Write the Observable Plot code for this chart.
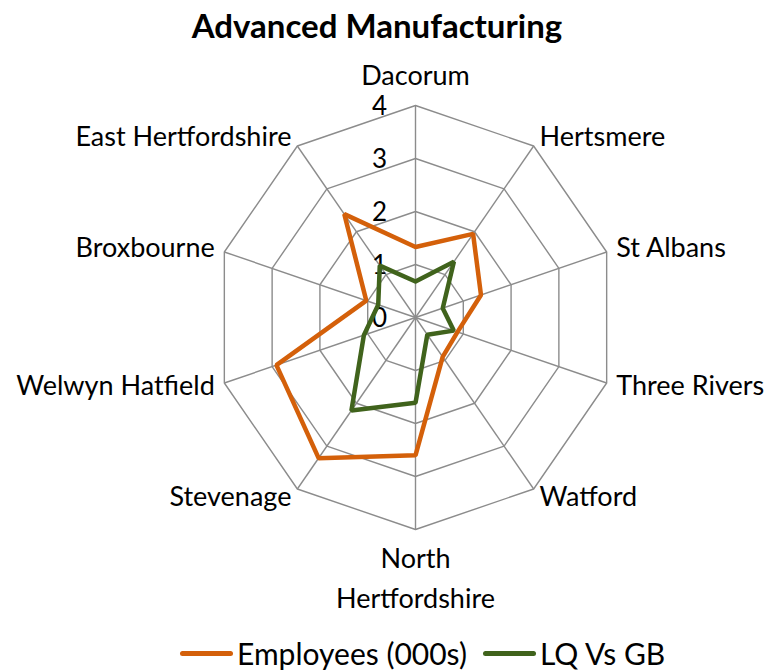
<!DOCTYPE html>
<html><head><meta charset="utf-8">
<script src="https://cdn.jsdelivr.net/npm/d3@7"></script>
<script src="https://cdn.jsdelivr.net/npm/@observablehq/plot@0.6"></script>
<style>
body{margin:0;background:#fff;font-family:Lato,sans-serif;color:#000;}
#wrap{width:779px;height:671px;position:relative;overflow:hidden;}
#title{height:50px;line-height:50px;font-weight:bold;font-size:33px;text-align:center;padding-right:25px;}
#chart{height:585px;}
#legend{display:flex;align-items:center;height:36px;padding-left:180px;font-size:30px;}
.sw{display:inline-block;width:53px;height:5px;border-radius:2.5px;margin-right:4px;}
.item{display:flex;align-items:center;margin-right:16px;}
</style></head><body>
<div id="wrap">
<div id="title">Advanced Manufacturing</div>
<div id="chart"></div>
<div id="legend"></div>
</div>
<script>
const categories = ["Dacorum","Hertsmere","St Albans","Three Rivers","Watford","North\nHertfordshire","Stevenage","Welwyn Hatfield","Broxbourne","East Hertfordshire"];
const employees = [1.33,1.95,1.37,0.88,0.92,2.60,3.28,2.91,1.03,2.41];
const lqVsGB = [0.68,1.30,0.57,0.80,0.40,1.61,2.17,1.08,0.78,1.21];
const ticks = [0,1,2,3,4];
const seriesNames = ["Employees (000s)","LQ Vs GB"];
const seriesColors = ["#d4600a","#40631c"];

const n = categories.length;
const ang = i => i * 2 * Math.PI / n;
const px = (v,i) => v * Math.sin(ang(i));
const py = (v,i) => v * Math.cos(ang(i));

const rings = [];
for (const r of ticks.filter(t=>t>0)) for (let i=0;i<=n;i++) rings.push({ring:r, x:px(r,i%n), y:py(r,i%n)});
const spokes = categories.map((c,i)=>({x2:px(4,i), y2:py(4,i)}));
const mk = vals => { const a=[]; for(let i=0;i<=n;i++) a.push({x:px(vals[i%n],i%n), y:py(vals[i%n],i%n)}); return a; };
const lab = (i,r) => ({x:px(r,i), y:py(r,i)});
const rightIdx=[1,2,3,4], leftIdx=[6,7,8,9];
const fs = 27;

const chart = Plot.plot({
  width: 779, height: 585,
  x: {domain:[-4,4], range:[214,616], axis:null},
  y: {domain:[-4,4], range:[479,55], axis:null},
  style: {fontFamily:"Lato, sans-serif", color:"#000", background:"#fff"},
  marks: [
    Plot.line(rings, {x:"x", y:"y", z:"ring", stroke:"#8c8c8c", strokeWidth:1.4}),
    Plot.link(spokes, {x1:()=>0, y1:()=>0, x2:"x2", y2:"y2", stroke:"#8c8c8c", strokeWidth:1.4}),
    Plot.text(ticks, {x:()=>0, y:d=>d, dx:-36, dy:1, text:d=>String(d), fontSize:26, fill:"#000"}),
    Plot.line(mk(employees), {x:"x", y:"y", stroke:seriesColors[0], strokeWidth:4.5, strokeLinejoin:"miter", curve:"linear"}),
    Plot.line(mk(lqVsGB), {x:"x", y:"y", stroke:seriesColors[1], strokeWidth:4.5, strokeLinejoin:"miter", curve:"linear"}),
    Plot.text(rightIdx.map(i=>({...lab(i,4.2), t:categories[i]})), {x:"x", y:"y", text:"t", textAnchor:"start", fontSize:fs, fill:"#000"}),
    Plot.text(leftIdx.map(i=>({...lab(i,4.2), t:categories[i]})), {x:"x", y:"y", text:"t", textAnchor:"end", fontSize:fs, fill:"#000"}),
    Plot.text([{...lab(0,4.38), t:categories[0]}], {x:"x", y:"y", text:"t", lineAnchor:"bottom", fontSize:fs, fill:"#000"}),
    Plot.text([{...lab(5,4.2), t:categories[5]}], {x:"x", y:"y", text:"t", lineAnchor:"top", lineHeight:1.48, fontSize:fs, fill:"#000"})
  ]
});
document.getElementById("chart").appendChild(chart);

const leg = document.getElementById("legend");
seriesNames.forEach((s,k)=>{
  const it=document.createElement("span"); it.className="item";
  const sw=document.createElement("span"); sw.className="sw"; sw.style.background=seriesColors[k];
  it.appendChild(sw); it.appendChild(document.createTextNode(s)); leg.appendChild(it);
});
</script>
</body></html>
